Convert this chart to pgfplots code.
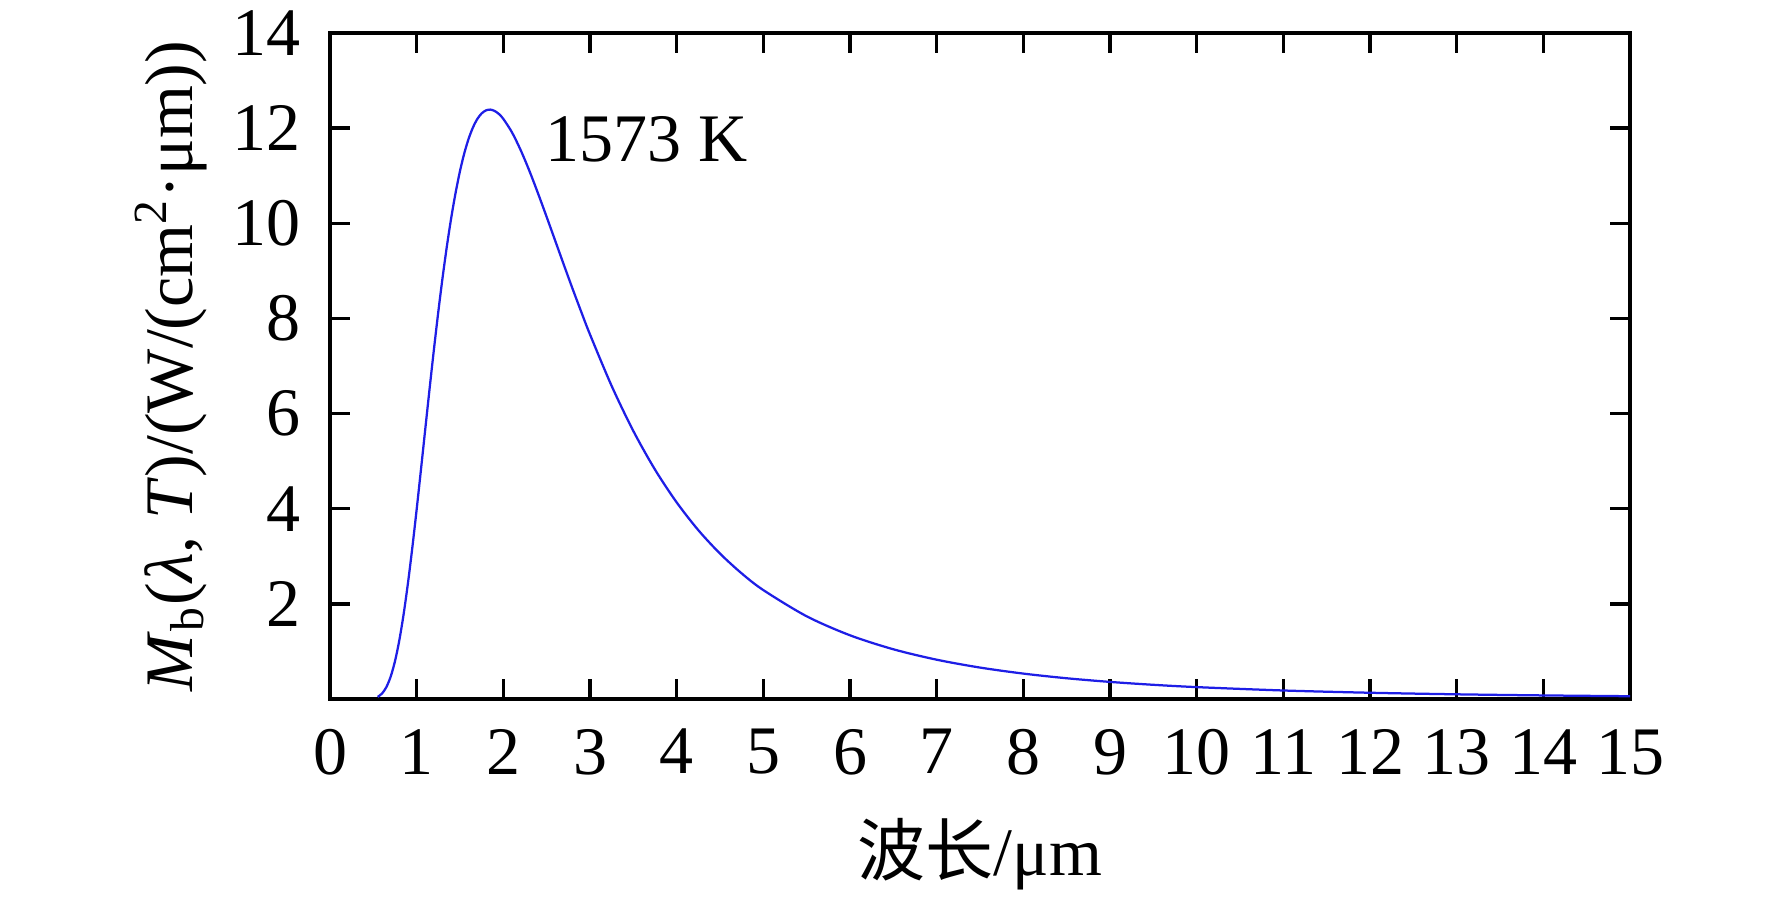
\documentclass[border=0pt]{standalone}
\usepackage{fontspec}
\setmainfont{Liberation Serif}
\newfontfamily\cjk{Noto Sans CJK SC}
\usepackage{pgfplots}
\pgfplotsset{compat=1.18}
\begin{document}
\fontsize{13.6}{16}\selectfont
\begin{tikzpicture}
\begin{axis}[
  scale only axis,
  width=260pt, height=133.2pt,
  xmin=0, xmax=15, ymin=0, ymax=14,
  xtick={0,1,...,15},
  ytick={2,4,...,14},
  tick align=inside,
  major tick length=4pt,
  tick style={line width=0.66pt, black},
  axis line style={line width=0.66pt},
  /pgf/number format/assume math mode=true,
  ticklabel style={font=\fontsize{13.6}{16}\selectfont},
  xticklabel style={yshift=-1.3pt},
  yticklabel style={xshift=-1.1pt},
  xlabel={{\cjk 波长}/μm},
  xlabel style={at={(axis description cs:0.5,-0.2643)}, anchor=base, font=\fontsize{13.6}{16}\selectfont},
  ylabel={\textit{M}\textsubscript{b}(\textit{λ}, \textit{T})/(W/(cm\textsuperscript{2}·μm))},
  ylabel style={at={(axis description cs:-0.1223,0.5)}, anchor=center, font=\fontsize{13.6}{16}\selectfont},
]
\addplot[color={rgb,255:red,30;green,30;blue,230}, line width=0.45pt, smooth, tension=0.5] coordinates {
(0.55,0.0445) (0.6,0.1152) (0.65,0.2495) (0.7,0.4706) (0.75,0.7965) (0.8,1.2362)
(0.85,1.7886) (0.9,2.4437) (0.95,3.184) (1.0,3.9874) (1.05,4.830) (1.1,5.687)
(1.15,6.538) (1.2,7.362) (1.25,8.145) (1.3,8.872) (1.35,9.535) (1.4,10.129)
(1.45,10.649) (1.5,11.100) (1.55,11.475) (1.6,11.780) (1.65,12.017) (1.7,12.193)
(1.75,12.310) (1.8,12.374) (1.85,12.390) (1.9,12.361) (1.95,12.296) (2.0,12.194)
(2.1,11.911) (2.2,11.538) (2.3,11.105) (2.4,10.630) (2.5,10.133) (2.6,9.626)
(2.7,9.118) (2.8,8.618) (2.9,8.133) (3.0,7.663) (3.25,6.580) (3.5,5.634)
(3.75,4.822) (4.0,4.133) (4.25,3.549) (4.5,3.0567) (4.75,2.6407) (5.0,2.2894)
(5.5,1.7389) (6.0,1.3393) (6.5,1.0455) (7.0,0.8264) (7.5,0.6609) (8.0,0.5343)
(8.5,0.4362) (9.0,0.3595) (9.5,0.2987) (10,0.2501) (11,0.17916) (12,0.13155)
(13,0.09870) (14,0.07546) (15,0.05865)
};
\node[anchor=base west, inner sep=0pt] at (axis cs:2.48,11.29) {1573 K};
\coordinate (sw) at (rel axis cs:0,0);
\coordinate (ne) at (rel axis cs:1,1);
\end{axis}
\pgfresetboundingbox
\path ([shift={(-66pt,-39.4pt)}]sw) rectangle ([shift={(28.4pt,6.6pt)}]ne);
\end{tikzpicture}
\end{document}
